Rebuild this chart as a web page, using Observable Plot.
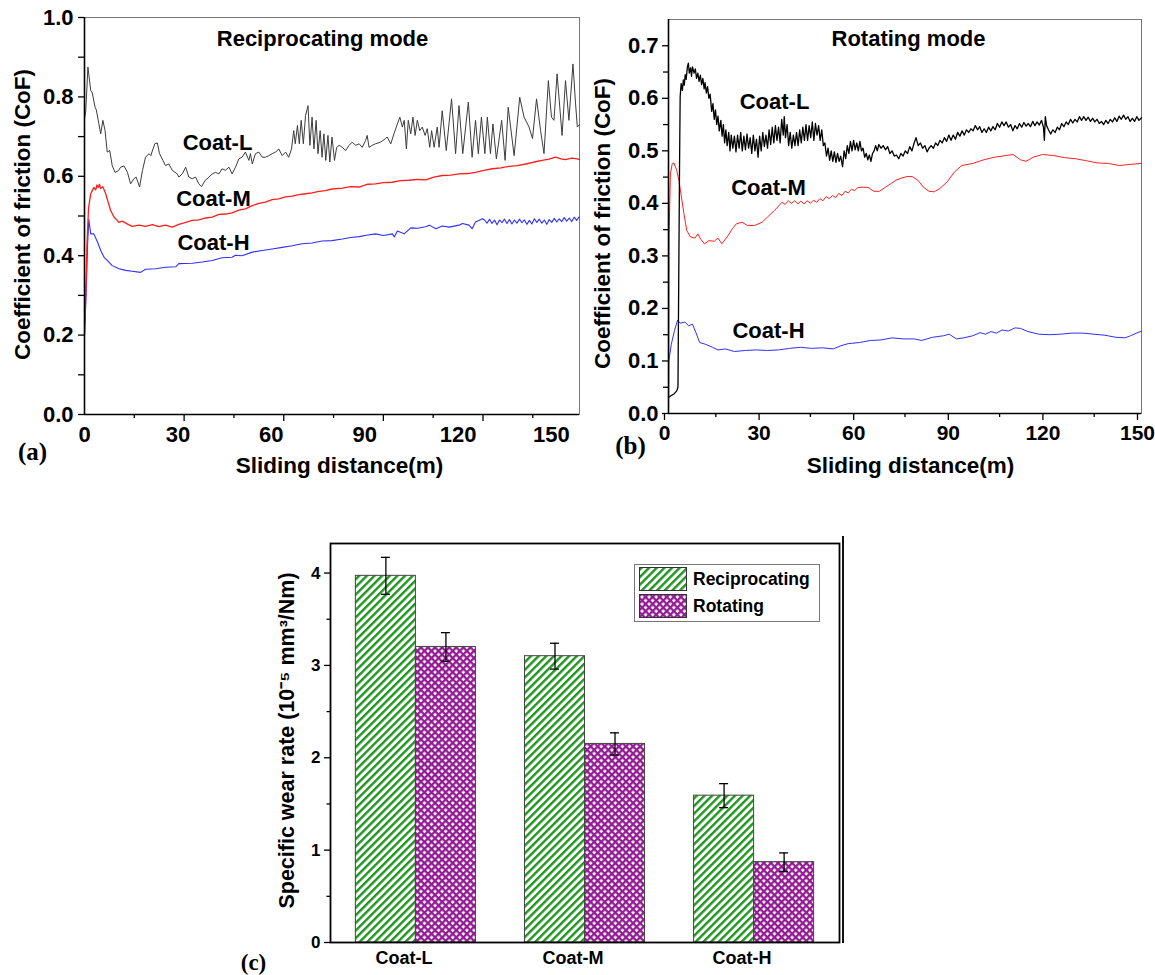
<!DOCTYPE html>
<html>
<head>
<meta charset="utf-8">
<script src="https://cdn.jsdelivr.net/npm/d3@7"></script>
<script src="https://cdn.jsdelivr.net/npm/@observablehq/plot@0.6"></script>
<style>
  body { margin: 0; background: #fff; }
  #root { position: relative; width: 1155px; height: 975px; overflow: hidden; background: #fff;
          font-family: "Liberation Sans", Arial, sans-serif; }
  .panel { position: absolute; }
  .panel svg { overflow: visible; }
</style>
</head>
<body>
<div id="root">
  <svg width="0" height="0" style="position:absolute;left:0;top:0">
    <defs>
      <pattern id="hatchG" patternUnits="userSpaceOnUse" width="5.4" height="5.4" patternTransform="rotate(45)">
        <rect width="5.4" height="5.4" fill="#ffffff"></rect>
        <rect x="0" y="0" width="2.4" height="5.4" fill="#1f951f"></rect>
      </pattern>
      <pattern id="crossP" patternUnits="userSpaceOnUse" width="5" height="5" patternTransform="rotate(45)">
        <rect width="5" height="5" fill="#921c92"></rect>
        <rect x="1.3" y="1.3" width="2.7" height="2.7" fill="#ffffff"></rect>
      </pattern>
    </defs>
  </svg>
  <div id="pa" class="panel" style="left:0;top:0"></div>
  <div id="pb" class="panel" style="left:590px;top:0"></div>
  <div id="pc" class="panel" style="left:230px;top:520px"></div>
  <div id="extraLine" style="position:absolute;left:842px;top:536px;width:2px;height:407px;background:#111"></div>
  <div id="legend" style="position:absolute;left:634px;top:564px;width:184px;height:56px;border:1px solid #777;background:#fff"></div>
</div>
<script>
// ---------------- (a) Reciprocating mode: CoF vs sliding distance ----------------
const recipCoatL = [[0,0.745],[0.4,0.765],[1.1,0.875],[2.0,0.816],[2.5,0.81],[3.4,0.774],[3.8,0.767],[4.6,0.733],[5.2,0.707],[5.9,0.741],[6.6,0.715],[7.3,0.661],[8.1,0.665],[8.9,0.627],[9.8,0.61],[10.9,0.614],[11.6,0.623],[12.7,0.626],[13.8,0.61],[14.8,0.581],[15.9,0.594],[16.6,0.598],[17.7,0.573],[18.6,0.614],[19.6,0.648],[20.7,0.657],[21.3,0.652],[22.0,0.669],[22.6,0.682],[23.4,0.684],[24.1,0.657],[25.2,0.64],[26.0,0.627],[27.1,0.631],[28.2,0.615],[29.8,0.606],[30.3,0.598],[31.4,0.606],[32.5,0.623],[33.5,0.598],[34.6,0.594],[35.7,0.598],[36.7,0.581],[37.6,0.574],[38.7,0.589],[40.0,0.598],[41.0,0.606],[42.1,0.61],[43.2,0.606],[44.2,0.619],[45.3,0.615],[46.4,0.623],[47.4,0.606],[48.5,0.623],[49.6,0.644],[50.6,0.648],[51.7,0.661],[52.8,0.64],[53.3,0.657],[53.9,0.631],[54.9,0.657],[56.0,0.661],[57.1,0.648],[58.1,0.648],[59.2,0.652],[60.3,0.657],[61.4,0.661],[62.4,0.669],[63.5,0.652],[64.6,0.661],[65.6,0.648],[66.5,0.669],[67.2,0.715],[67.7,0.682],[68.4,0.728],[69.0,0.682],[69.6,0.741],[70.3,0.682],[71.0,0.753],[71.8,0.778],[72.4,0.678],[73.1,0.749],[73.7,0.669],[74.4,0.741],[75.0,0.657],[75.7,0.715],[76.3,0.648],[76.9,0.707],[77.5,0.64],[78.2,0.703],[78.8,0.636],[79.5,0.699],[80.3,0.64],[81.0,0.673],[81.8,0.678],[82.8,0.673],[83.9,0.665],[85.0,0.678],[86.0,0.686],[87.1,0.678],[88.2,0.682],[89.2,0.673],[90.3,0.69],[90.8,0.703],[91.4,0.673],[92.4,0.678],[93.5,0.682],[95.1,0.686],[96.7,0.695],[97.2,0.699],[98.4,0.682],[99.4,0.707],[100.5,0.732],[101.3,0.749],[102.1,0.724],[102.7,0.741],[103.4,0.669],[104.0,0.741],[104.8,0.707],[105.5,0.749],[106.2,0.703],[106.9,0.741],[107.7,0.715],[108.5,0.724],[109.4,0.703],[110.1,0.72],[110.9,0.673],[111.5,0.715],[112.3,0.673],[113.3,0.724],[113.9,0.673],[114.9,0.765],[116.2,0.665],[117.9,0.795],[119.2,0.657],[120.3,0.778],[121.5,0.657],[123.3,0.787],[124.5,0.648],[125.6,0.741],[126.5,0.657],[127.5,0.749],[128.6,0.657],[129.4,0.749],[130.4,0.657],[131.2,0.732],[132.3,0.644],[134.0,0.741],[135.1,0.64],[136.1,0.774],[138.0,0.652],[139.8,0.799],[141.2,0.749],[142.8,0.724],[143.9,0.695],[145.2,0.795],[146.5,0.715],[147.6,0.657],[149.0,0.841],[150.0,0.749],[150.8,0.741],[151.8,0.858],[153.4,0.703],[154.5,0.841],[155.6,0.741],[156.9,0.883],[157.7,0.787],[158.3,0.724],[159,0.73]];

const recipCoatM = [[0,0.2],[0.4,0.3],[0.8,0.43],[1.3,0.52],[2.0,0.556],[2.5,0.564],[3.0,0.572],[3.6,0.566],[4.0,0.578],[4.4,0.572],[4.8,0.58],[5.2,0.569],[5.9,0.574],[6.8,0.556],[7.6,0.535],[8.4,0.514],[9.5,0.497],[10.5,0.489],[11.0,0.484],[12.1,0.487],[13.7,0.48],[15.3,0.474],[17.5,0.477],[19.6,0.474],[21.8,0.478],[23.9,0.473],[26.0,0.477],[28.2,0.472],[30.3,0.479],[32.5,0.484],[34.6,0.489],[36.7,0.49],[38.9,0.495],[41.0,0.497],[43.2,0.504],[45.3,0.505],[47.4,0.508],[49.6,0.515],[51.7,0.518],[53.9,0.526],[56.0,0.532],[58.1,0.535],[60.3,0.541],[62.4,0.543],[64.6,0.548],[66.7,0.55],[68.8,0.554],[71.0,0.556],[73.1,0.558],[75.3,0.562],[77.4,0.564],[79.5,0.568],[82.8,0.57],[85.5,0.574],[88.2,0.573],[91.0,0.58],[93.5,0.581],[96.0,0.584],[98.9,0.585],[101.5,0.589],[104.2,0.59],[107.0,0.592],[109.6,0.591],[112.2,0.598],[114.9,0.602],[117.6,0.603],[120.3,0.606],[123.0,0.607],[125.6,0.61],[128.3,0.615],[131.0,0.619],[133.7,0.621],[136.3,0.625],[139.0,0.627],[141.7,0.631],[144.4,0.636],[147.0,0.64],[149.2,0.643],[151.3,0.648],[153.0,0.644],[154.5,0.642],[156.5,0.646],[158.3,0.644],[159,0.642]];

const recipCoatH = [[0,0.2],[0.5,0.3],[1.0,0.43],[1.4,0.491],[2.0,0.455],[3.0,0.455],[4.2,0.434],[5.2,0.413],[6.3,0.396],[7.3,0.388],[8.9,0.375],[11.1,0.367],[13.2,0.363],[15.3,0.361],[18.0,0.358],[19.6,0.366],[22.8,0.367],[26.0,0.371],[29.3,0.372],[30.3,0.38],[34.6,0.381],[37.8,0.384],[41.0,0.388],[44.2,0.395],[47.4,0.396],[48.5,0.401],[50.6,0.4],[53.9,0.409],[57.1,0.413],[60.3,0.417],[63.5,0.421],[66.7,0.425],[69.9,0.43],[73.1,0.432],[76.3,0.437],[79.5,0.438],[82.8,0.442],[85.5,0.446],[88.2,0.448],[91.0,0.452],[93.5,0.455],[96.0,0.451],[98.9,0.455],[99.5,0.447],[100.5,0.462],[102.7,0.455],[104.8,0.47],[107.0,0.469],[109.6,0.473],[110.7,0.477],[112.9,0.468],[114.9,0.475],[117.1,0.472],[120.3,0.477],[121.4,0.481],[123.5,0.477],[124.5,0.468],[125.6,0.485],[127.8,0.493],[128.5,0.49],[129.3,0.482],[130.1,0.492],[130.9,0.481],[131.7,0.49],[132.5,0.478],[133.3,0.49],[134.1,0.483],[134.9,0.492],[135.7,0.481],[136.5,0.491],[137.3,0.48],[138.1,0.49],[138.9,0.482],[139.7,0.492],[140.5,0.483],[141.3,0.49],[142.1,0.479],[142.9,0.489],[143.7,0.48],[144.5,0.493],[145.3,0.484],[146.1,0.492],[146.9,0.482],[147.7,0.49],[148.5,0.479],[149.3,0.491],[150.1,0.484],[150.9,0.494],[151.7,0.485],[152.5,0.493],[153.3,0.486],[154.1,0.496],[154.9,0.487],[155.7,0.495],[156.5,0.486],[157.3,0.497],[158.1,0.489],[158.9,0.498]];

// ---------------- (b) Rotating mode ----------------
const rotCoatL = [[0,0.031],[1.7,0.037],[2.6,0.043],[3.0,0.05],[3.5,0.469],[3.7,0.603],[4.0,0.628],[4.4,0.615],[4.7,0.635],[5.0,0.625],[5.3,0.645],[5.6,0.636],[6.0,0.66],[6.3,0.667],[6.6,0.648],[7.0,0.658],[7.3,0.642],[7.6,0.66],[8.1,0.648],[8.5,0.656],[8.9,0.638],[9.3,0.648],[9.7,0.632],[10.1,0.644],[10.5,0.626],[10.9,0.638],[11.3,0.618],[11.6,0.63],[12.0,0.61],[12.4,0.622],[12.8,0.6],[13.2,0.608],[13.7,0.575],[14.1,0.59],[14.5,0.56],[14.9,0.578],[15.3,0.55],[15.7,0.566],[16.1,0.538],[16.6,0.558],[17.0,0.528],[17.4,0.55],[17.8,0.515],[18.2,0.54],[18.6,0.51],[19.1,0.535],[19.5,0.5],[19.9,0.53],[20.4,0.505],[20.9,0.528],[21.4,0.498],[21.9,0.53],[22.4,0.505],[22.9,0.535],[23.4,0.5],[23.9,0.528],[24.4,0.502],[24.9,0.532],[25.4,0.505],[25.9,0.525],[26.4,0.495],[26.9,0.53],[27.4,0.5],[27.9,0.522],[28.4,0.488],[28.9,0.528],[29.4,0.5],[29.9,0.535],[30.4,0.508],[30.9,0.53],[31.4,0.505],[31.9,0.54],[32.4,0.512],[32.9,0.545],[33.4,0.515],[33.9,0.548],[34.4,0.52],[34.9,0.545],[35.4,0.515],[35.9,0.56],[36.4,0.53],[36.7,0.565],[37.1,0.525],[37.6,0.55],[38.1,0.51],[38.6,0.535],[39.1,0.505],[39.6,0.53],[40.1,0.51],[40.6,0.535],[41.1,0.51],[41.6,0.54],[42.1,0.515],[42.6,0.545],[43.1,0.52],[43.6,0.55],[44.1,0.52],[44.6,0.548],[45.1,0.525],[45.6,0.555],[46.1,0.52],[46.6,0.552],[47.1,0.53],[47.6,0.548],[48.1,0.52],[48.6,0.54],[49.1,0.51],[49.6,0.515],[50.1,0.49],[50.6,0.505],[51.1,0.482],[51.6,0.5],[52.1,0.48],[52.6,0.498],[53.1,0.478],[53.6,0.495],[54.1,0.48],[54.6,0.49],[55.2,0.47],[55.7,0.5],[56.2,0.485],[56.7,0.51],[57.2,0.495],[57.7,0.518],[58.2,0.5],[58.7,0.52],[59.2,0.502],[59.7,0.515],[60.2,0.5],[60.7,0.518],[61.2,0.5],[61.7,0.505],[62.2,0.488],[62.7,0.495],[63.2,0.483],[63.7,0.492],[64.2,0.48],[64.7,0.495],[65.2,0.5],[65.7,0.51],[66.2,0.5],[66.7,0.512],[67.4,0.505],[68.1,0.51],[68.8,0.502],[69.5,0.508],[70.2,0.495],[70.9,0.5],[71.6,0.49],[72.3,0.492],[73.0,0.485],[73.7,0.495],[74.4,0.49],[75.1,0.5],[75.8,0.495],[76.5,0.508],[77.2,0.5],[77.9,0.515],[78.5,0.525],[79.2,0.51],[79.9,0.515],[80.6,0.505],[81.3,0.51],[82.0,0.498],[82.6,0.505],[83.3,0.51],[84.0,0.505],[84.7,0.515],[85.4,0.51],[86.1,0.52],[86.8,0.515],[87.5,0.525],[88.2,0.518],[88.9,0.53],[89.6,0.52],[90.3,0.53],[91.0,0.522],[91.7,0.535],[92.4,0.528],[93.1,0.538],[93.8,0.53],[94.5,0.54],[95.2,0.535],[95.9,0.542],[96.6,0.538],[97.3,0.548],[98.0,0.54],[98.7,0.546],[99.4,0.535],[100.1,0.542],[100.8,0.535],[101.5,0.545],[102.2,0.538],[102.9,0.546],[103.6,0.54],[104.3,0.552],[105.0,0.545],[105.7,0.555],[106.4,0.548],[107.1,0.555],[107.8,0.545],[108.5,0.55],[109.2,0.538],[109.9,0.548],[110.6,0.542],[111.3,0.552],[112.0,0.545],[112.7,0.554],[113.4,0.547],[114.1,0.552],[114.8,0.546],[115.5,0.556],[116.2,0.548],[116.9,0.555],[117.6,0.549],[118.3,0.558],[118.9,0.545],[119.2,0.52],[119.5,0.565],[119.9,0.548],[120.5,0.54],[121.2,0.532],[121.9,0.54],[122.6,0.535],[123.3,0.545],[124.0,0.54],[124.7,0.552],[125.4,0.546],[126.1,0.555],[126.8,0.55],[127.5,0.56],[128.2,0.553],[128.9,0.56],[129.6,0.555],[130.3,0.565],[131.0,0.558],[131.7,0.565],[132.4,0.558],[133.1,0.564],[133.8,0.556],[134.5,0.562],[135.2,0.555],[135.9,0.56],[136.6,0.552],[137.3,0.556],[138.0,0.55],[138.7,0.558],[139.4,0.552],[140.1,0.56],[140.8,0.555],[141.5,0.563],[142.2,0.556],[142.9,0.566],[143.6,0.56],[144.3,0.568],[145.0,0.56],[145.7,0.565],[146.4,0.556],[147.1,0.562],[147.8,0.556],[148.5,0.565],[149.2,0.558],[150,0.563]];

const rotCoatM = [[0,0.0],[0.2,0.342],[0.6,0.456],[1.2,0.476],[1.7,0.477],[2.6,0.463],[3.3,0.444],[4.1,0.412],[4.9,0.38],[5.8,0.348],[7.0,0.336],[8.4,0.334],[9.3,0.342],[10.2,0.332],[11.4,0.323],[12.8,0.329],[14.5,0.328],[15.7,0.334],[16.9,0.323],[18.6,0.336],[20.3,0.352],[21.5,0.361],[23.3,0.364],[25.0,0.358],[27.3,0.358],[29.7,0.364],[31.4,0.374],[33.7,0.387],[36.0,0.402],[37.0,0.398],[38.0,0.405],[39.0,0.4],[40.0,0.405],[41.0,0.399],[42.0,0.404],[43.0,0.399],[44.0,0.405],[45.0,0.4],[46.0,0.406],[47.0,0.402],[48.0,0.409],[49.0,0.405],[50.0,0.413],[51.0,0.409],[52.0,0.415],[53.0,0.411],[54.0,0.419],[55.0,0.415],[56.0,0.423],[57.0,0.42],[58.0,0.427],[59.0,0.424],[60.0,0.43],[61.6,0.431],[63.4,0.43],[65.1,0.423],[66.9,0.423],[68.6,0.43],[70.4,0.437],[72.1,0.444],[73.8,0.448],[75.6,0.451],[77.3,0.451],[79.1,0.444],[80.8,0.431],[82.6,0.423],[84.3,0.422],[86.0,0.428],[88.4,0.441],[90.7,0.46],[93.0,0.472],[96.5,0.476],[100.0,0.483],[103.5,0.488],[107.0,0.491],[109.3,0.493],[111.6,0.483],[113.4,0.48],[115.7,0.488],[118.6,0.493],[122.1,0.491],[125.6,0.487],[129.1,0.485],[132.6,0.481],[136.0,0.477],[139.5,0.476],[143.0,0.472],[146.0,0.474],[150,0.476]];

const rotCoatH = [[0,0.0],[0.1,0.1],[0.9,0.132],[1.9,0.158],[2.9,0.178],[3.7,0.172],[5.2,0.174],[6.4,0.167],[7.6,0.17],[8.7,0.154],[9.9,0.135],[11.6,0.132],[14.0,0.126],[15.7,0.121],[18.0,0.123],[20.9,0.118],[24.4,0.12],[27.9,0.121],[31.4,0.12],[34.9,0.121],[38.4,0.124],[41.9,0.126],[45.3,0.124],[48.8,0.125],[52.3,0.123],[54.7,0.129],[57.0,0.133],[60.5,0.135],[64.0,0.139],[67.4,0.14],[70.9,0.144],[74.4,0.142],[77.9,0.142],[80.2,0.139],[83.7,0.145],[87.2,0.148],[89.0,0.151],[91.3,0.142],[93.6,0.144],[96.5,0.148],[98.8,0.154],[100.5,0.151],[102.3,0.156],[104.0,0.153],[105.8,0.159],[107.8,0.157],[109.9,0.163],[111.6,0.162],[114.0,0.156],[117.4,0.151],[120.9,0.15],[124.4,0.151],[127.9,0.153],[131.4,0.153],[134.9,0.151],[138.4,0.149],[141.9,0.145],[144.8,0.144],[146.5,0.148],[150,0.157]];

// ---------------- (c) Specific wear rate ----------------
const coatings = ["Coat-L", "Coat-M", "Coat-H"];
const modes = ["Reciprocating", "Rotating"];
const wearReciprocating = [3.97, 3.10, 1.59];
const wearRotating = [3.20, 2.15, 0.87];
const errReciprocating = [0.20, 0.14, 0.13];
const errRotating = [0.155, 0.12, 0.10];

// tick values
const aYLabelTicks = [0, 0.2, 0.4, 0.6, 0.8, 1.0];
const aYMinorTicks = [0.1, 0.3, 0.5, 0.7, 0.9];
const aXLabelTicks = [0, 30, 60, 90, 120, 150];
const aXMajorTicks = [32, 64, 96, 128];
const aXMinorTicks = [16, 48, 80, 112, 144];
const bYLabelTicks = [0, 0.1, 0.2, 0.3, 0.4, 0.5, 0.6, 0.7];
const bYMinorTicks = [0.05, 0.15, 0.25, 0.35, 0.45, 0.55, 0.65];
const bXLabelTicks = [0, 30, 60, 90, 120, 150];
const bXMinorTicks = [15, 45, 75, 105, 135];
const cYLabelTicks = [0, 1, 2, 3, 4];
const cYMinorTicks = [0.5, 1.5, 2.5, 3.5];

const FONT = "'Liberation Sans', Arial, Helvetica, sans-serif";
const SERIF = "'Liberation Serif', 'Times New Roman', serif";

function lbl(s, dx, dy, o = {}) {
  return Plot.text([s], {text: d => d, frameAnchor: "top-left", dx, dy, textAnchor: "middle",
    lineAnchor: "middle", fontSize: 22, fontWeight: "bold", fill: "#000", fontFamily: FONT, ...o});
}
const X = d => d[0], Y = d => d[1];

// ---- panel (a)
const plotA = Plot.plot({
  width: 590, height: 480,
  marginLeft: 84, marginRight: 11, marginTop: 17, marginBottom: 66,
  x: {domain: [0, 159]},
  y: {domain: [0, 1]},
  style: {background: "transparent", color: "#000", fontFamily: FONT, overflow: "visible"},
  marks: [
    Plot.frame({stroke: "#777", strokeWidth: 1}),
    Plot.line(recipCoatH, {x: X, y: Y, stroke: "#2f2fff", strokeWidth: 1.1}),
    Plot.line(recipCoatM, {x: X, y: Y, stroke: "#ff1c1c", strokeWidth: 1.3}),
    Plot.line(recipCoatL, {x: X, y: Y, stroke: "#3c3c3c", strokeWidth: 1}),
    Plot.ruleX([0], {stroke: "#000", strokeWidth: 1.6}),
    Plot.ruleY([0], {stroke: "#000", strokeWidth: 1.6}),
    Plot.axisY({ticks: aYLabelTicks, tickSize: 6, tickPadding: 5, tickFormat: d => d.toFixed(1), fontSize: 22, fontWeight: "bold", label: null, strokeWidth: 1.3}),
    Plot.axisY({ticks: aYMinorTicks, tickSize: 6, tickFormat: () => "", label: null, strokeWidth: 1.3}),
    Plot.axisX({ticks: aXLabelTicks, tickSize: 0, tickPadding: 12, fontSize: 22, fontWeight: "bold", label: null}),
    Plot.axisX({ticks: aXMajorTicks, tickSize: 7, tickFormat: () => "", label: null, strokeWidth: 1.3}),
    Plot.axisX({ticks: aXMinorTicks, tickSize: 4, tickFormat: () => "", label: null, strokeWidth: 1.3}),
    lbl("Reciprocating mode", 238, 21),
    lbl("Coat-L", 133, 125),
    lbl("Coat-M", 129, 181),
    lbl("Coat-H", 129, 225),
    lbl("Coefficient of friction (CoF)", -62, 197, {rotate: -90, fontSize: 22.5}),
    lbl("Sliding distance(m)", 255, 448, {fontSize: 22.5}),
    lbl("(a)", -52, 434, {fontFamily: SERIF, fontSize: 25})
  ]
});
document.getElementById("pa").append(plotA);

// ---- panel (b)
const plotB = Plot.plot({
  width: 565, height: 480,
  marginLeft: 78, marginRight: 14, marginTop: 19, marginBottom: 67,
  x: {domain: [0, 150]},
  y: {domain: [0, 0.75]},
  style: {background: "transparent", color: "#000", fontFamily: FONT, overflow: "visible"},
  marks: [
    Plot.frame({stroke: "#777", strokeWidth: 1}),
    Plot.line(rotCoatH, {x: X, y: Y, stroke: "#2f2fff", strokeWidth: 1}),
    Plot.line(rotCoatM, {x: X, y: Y, stroke: "#ff2020", strokeWidth: 1}),
    Plot.line(rotCoatL, {x: X, y: Y, stroke: "#000", strokeWidth: 1.3}),
    Plot.ruleX([0], {stroke: "#000", strokeWidth: 1.6}),
    Plot.ruleY([0], {stroke: "#000", strokeWidth: 1.6}),
    Plot.axisY({ticks: bYLabelTicks, tickSize: 6, tickPadding: 4, tickFormat: d => d.toFixed(1), fontSize: 22, fontWeight: "bold", label: null, strokeWidth: 1.3}),
    Plot.axisY({ticks: bYMinorTicks, tickSize: 5, tickFormat: () => "", label: null, strokeWidth: 1.3}),
    Plot.axisX({ticks: bXLabelTicks, tickSize: 7, tickPadding: 5, fontSize: 21, fontWeight: "bold", label: null, strokeWidth: 1.3, dx: -4}),
    Plot.axisX({ticks: bXMinorTicks, tickSize: 4, tickFormat: () => "", label: null, strokeWidth: 1.3}),
    lbl("Rotating mode", 240, 19),
    lbl("Coat-L", 106, 82),
    lbl("Coat-M", 100, 168),
    lbl("Coat-H", 100, 311),
    lbl("Coefficient of friction (CoF)", -66, 204, {rotate: -90, fontSize: 22.5}),
    lbl("Sliding distance(m)", 242, 446, {fontSize: 22.5}),
    lbl("(b)", -38, 426, {fontFamily: SERIF, fontSize: 25})
  ]
});
document.getElementById("pb").append(plotB);

// ---- panel (c)
const wearRows = coatings.flatMap((c, i) => [
  {coat: c, mode: modes[0], v: wearReciprocating[i], e: errReciprocating[i]},
  {coat: c, mode: modes[1], v: wearRotating[i], e: errRotating[i]}
]);
const cW = 640, cML = 100, cMR = 31;
const pIn = 0.29, pOut = 0.15;
const bw = d3.scaleBand().domain(coatings).range([cML, cW - cMR]).paddingInner(pIn).paddingOuter(pOut).bandwidth();
const half = bw / 2, cap = 4.5;
const recRows = wearRows.filter(d => d.mode === modes[0]);
const rotRows = wearRows.filter(d => d.mode === modes[1]);

const plotC = Plot.plot({
  width: cW, height: 455,
  marginLeft: cML, marginRight: cMR, marginTop: 23, marginBottom: 33,
  x: {type: "band", domain: coatings, paddingInner: pIn, paddingOuter: pOut, round: false},
  y: {domain: [0, 4.32]},
  style: {background: "transparent", color: "#000", fontFamily: FONT, overflow: "visible"},
  marks: [
    Plot.barY(recRows, {x: "coat", y: "v", fill: "url(#hatchG)", stroke: "#444", strokeWidth: 1, insetLeft: 0, insetRight: half}),
    Plot.barY(rotRows, {x: "coat", y: "v", fill: "url(#crossP)", stroke: "#444", strokeWidth: 1, insetLeft: half, insetRight: 0}),
    Plot.ruleX(recRows, {x: "coat", y1: d => d.v - d.e, y2: d => d.v + d.e, dx: -half / 2, stroke: "#000", strokeWidth: 1.3}),
    Plot.ruleX(rotRows, {x: "coat", y1: d => d.v - d.e, y2: d => d.v + d.e, dx: half / 2, stroke: "#000", strokeWidth: 1.3}),
    Plot.tickY(recRows, {x: "coat", y: d => d.v + d.e, insetLeft: half / 2 - cap, insetRight: bw - half / 2 - cap, stroke: "#000", strokeWidth: 1.3}),
    Plot.tickY(recRows, {x: "coat", y: d => d.v - d.e, insetLeft: half / 2 - cap, insetRight: bw - half / 2 - cap, stroke: "#000", strokeWidth: 1.3}),
    Plot.tickY(rotRows, {x: "coat", y: d => d.v + d.e, insetLeft: bw - half / 2 - cap, insetRight: half / 2 - cap, stroke: "#000", strokeWidth: 1.3}),
    Plot.tickY(rotRows, {x: "coat", y: d => d.v - d.e, insetLeft: bw - half / 2 - cap, insetRight: half / 2 - cap, stroke: "#000", strokeWidth: 1.3}),
    Plot.frame({stroke: "#000", strokeWidth: 1.8}),
    Plot.axisY({ticks: cYLabelTicks, tickSize: 6, tickPadding: 4, tickFormat: d => String(d), fontSize: 17, fontWeight: "bold", label: null, strokeWidth: 1.3}),
    Plot.axisY({ticks: cYMinorTicks, tickSize: 3.5, tickFormat: () => "", label: null, strokeWidth: 1.3}),
    Plot.axisX({tickSize: 0, tickPadding: 9, fontSize: 18, fontWeight: "bold", label: null, dx: -12}),
    lbl("Specific wear rate (10\u207B\u2075 mm\u00B3/Nm)", -43, 197, {rotate: -90, fontSize: 21.5}),
    lbl("(c)", -77, 419, {fontFamily: SERIF, fontSize: 23})
  ]
});
document.getElementById("pc").append(plotC);

// ---- legend for (c)
const legend = document.getElementById("legend");
const fills = ["url(#hatchG)", "url(#crossP)"];
const ns = "http://www.w3.org/2000/svg";
const lsvg = document.createElementNS(ns, "svg");
lsvg.setAttribute("width", 184); lsvg.setAttribute("height", 56);
lsvg.style.position = "absolute"; lsvg.style.left = "0"; lsvg.style.top = "0";
modes.forEach((m, i) => {
  const r = document.createElementNS(ns, "rect");
  r.setAttribute("x", 4.5); r.setAttribute("y", 2.5 + i * 27);
  r.setAttribute("width", 47); r.setAttribute("height", 23);
  r.setAttribute("fill", fills[i]); r.setAttribute("stroke", "#333");
  lsvg.appendChild(r);
  const t = document.createElementNS(ns, "text");
  t.setAttribute("x", 58); t.setAttribute("y", 14 + i * 27);
  t.setAttribute("dominant-baseline", "central");
  t.setAttribute("font-family", FONT); t.setAttribute("font-size", 17.5); t.setAttribute("font-weight", "bold");
  t.textContent = m;
  lsvg.appendChild(t);
});
legend.appendChild(lsvg);
</script>
</body>
</html>
